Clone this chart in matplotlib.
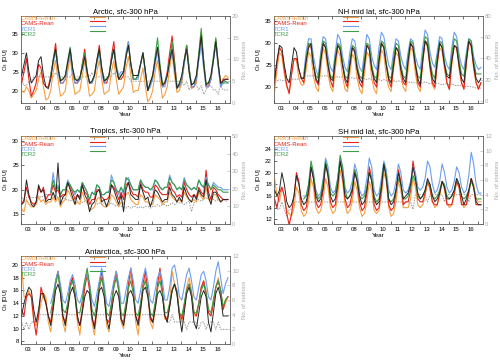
import numpy as np
import matplotlib
matplotlib.use('Agg')
import matplotlib.pyplot as plt

plt.rcParams['font.family'] = ['Liberation Sans', 'DejaVu Sans']

# bi-monthly samples (Jan, Mar, May, Jul, Sep, Nov), 2003 .. Mar 2017
YEAR_LABELS = ['03', '04', '05', '06', '07', '08', '09', '10', '11', '12', '13', '14', '15', '16']
SERIES_NAMES = ['CAMS-iRean', 'CAMS-Rean', 'TCR1', 'TCR2']
START_ALL = 2003
START_TCR = 2005

# ---------------- Arctic ----------------
ARC_OBS = [24, 27, 30, 25, 22, 23, 24, 28, 29, 24, 21, 20.5, 23, 28, 31, 26, 22.5, 23,
           24, 27.5, 31, 26, 23, 22.5, 23.5, 26, 29, 25, 22, 22.5, 24, 28, 31, 26, 22.5, 23,
           24, 28, 31, 26, 23, 24, 25, 29, 32, 27, 24, 24, 24, 27, 30, 25, 20, 22,
           24, 28, 31.5, 26, 21.5, 22, 24, 28, 31, 26, 20.5, 22, 24, 28, 31, 25, 21.5, 22,
           24, 29, 34.5, 27, 21.5, 22, 24, 28, 33, 27, 22, 22.5, 23, 23]
ARC_IREAN = [20, 19.5, 21, 20, 18, 19, 20, 23, 25, 21, 17.5, 18, 20, 25, 28, 23, 18.5, 19,
             20, 25, 29, 23, 19, 19.5, 20, 24, 28, 23, 18.5, 19, 20, 25, 28, 23, 19, 19.5,
             20, 25, 28, 23, 19, 20, 21, 26, 29, 24, 19.5, 20, 20, 23, 26, 21, 17, 18,
             20, 25, 28, 23, 18, 19, 21, 26, 30, 24, 19.5, 20, 22, 27, 32, 25, 20.5, 21,
             22, 29, 35.5, 27, 21, 21.5, 23, 28, 33, 27, 22, 23, 24, 23.5]
ARC_REAN = [22, 25, 28.5, 23, 18.5, 20, 22, 27, 26, 22, 21, 21, 24, 28, 32.5, 26, 22, 22,
            23, 27, 31, 25, 22, 22, 23, 27, 31, 25, 22, 22, 24, 28, 32, 26, 22, 22,
            24, 29, 33, 26, 23, 23, 24, 29, 33, 27, 23, 23, 24, 27, 30, 25, 20, 22,
            24, 28, 31, 26, 21, 22, 25, 30, 34.5, 28, 21, 21, 23, 28, 32, 26, 21, 21,
            23, 29, 35, 28, 21, 21, 23, 28, 33.5, 27, 21, 23, 23, 23]
ARC_TCR1 = [24, 27, 30.5, 25, 22, 22, 23, 27, 30, 25, 22, 22, 23, 26, 29, 25, 22, 22,
            24, 27, 30, 25, 22, 23, 24, 28, 31, 27, 24, 25, 25, 30, 33, 27, 23, 23,
            23, 27, 30, 24, 20, 21, 23, 27, 30.5, 25, 21, 21, 24, 28, 30, 26, 21, 21,
            23, 27, 31, 25, 21, 21, 23, 28, 32, 26, 21, 21, 23, 28, 32, 26, 21, 22, 22, 22]
ARC_TCR2 = [24, 28, 31, 26, 23, 23, 24, 28, 31.5, 26, 23, 23, 23, 27, 30, 25, 22, 22.5,
            24, 28, 31, 26, 23, 23, 24, 28, 31, 26, 23, 24, 25, 29, 32, 27, 23, 23,
            24, 27, 30, 25, 20, 22, 24, 29, 34, 27, 22, 22, 24, 28, 33, 27, 21, 21.5,
            24, 28, 32, 26, 21.5, 22, 24, 30, 36.5, 28, 22, 22, 24, 29, 34, 27, 22, 22, 22.5, 22]
ARC_NST = [5, 4, 4, 5, 5, 6, 6, 6, 6, 6, 6, 6, 6, 6, 7, 6, 6, 6,
           6, 6, 6, 7, 6, 6, 6, 6, 6, 6, 6, 7, 6, 6, 6, 6, 6, 6,
           6, 6, 7, 6, 6, 6, 6, 6, 6, 5, 5, 5, 5, 5, 5, 5, 5, 5,
           5, 5, 5, 5, 5, 5, 5, 5, 5, 5, 5, 5, 5, 4, 5, 3, 4, 5,
           4, 3, 4, 2, 3, 4, 4, 3, 3, 2, 4, 3, 3, 3]

# ---------------- NH mid lat ----------------
NH_OBS = [22, 26, 29.5, 29, 25, 22, 21, 25, 29, 28, 24, 22, 22, 26, 29, 30, 25, 22,
          21, 26, 30, 29, 25, 22, 21.5, 26, 29.5, 28.5, 25, 22, 21, 25, 29, 28, 24, 22,
          21, 25, 29.5, 28.5, 24, 22, 21, 26, 30, 29, 25, 22, 21, 25, 29, 28, 24, 22,
          21, 26, 30, 29, 25, 22, 20.5, 26, 30.5, 29.5, 25, 22, 21, 26, 30, 29, 25, 22.5,
          22, 26, 29.5, 29, 25, 22, 21, 26, 30.5, 29.5, 25, 22, 21, 22]
NH_IREAN = [19, 24, 28, 27, 23, 20, 19, 23, 26.5, 26, 22, 20.5, 20.5, 24, 28, 27, 22.5, 20,
            19, 24, 29, 27.5, 23, 20, 19, 24, 28.5, 27, 22.5, 19.5, 19, 23, 27.5, 26.5, 22, 19.5,
            18.5, 23, 28, 27, 22, 19.5, 18.5, 24, 28.5, 27.5, 22.5, 20, 19, 24, 28, 27, 22.5, 20,
            19, 24, 29, 28, 23, 20, 19, 25, 30.5, 29, 24, 20.5, 19.5, 25, 29, 28, 24, 21,
            19.5, 25, 29.5, 29, 24, 21, 20, 25, 30, 29, 24, 21, 20, 21]
NH_REAN = [21, 26, 29, 28, 24, 20.5, 18.5, 23, 26.5, 26.5, 24, 22, 21, 26, 29.5, 29, 25, 21.5,
           20.5, 26, 30, 29, 25, 21.5, 20, 26, 29.5, 29, 25, 21.5, 20, 25, 29, 28.5, 24, 21,
           20, 25, 29.5, 29, 24.5, 21, 20, 26, 30, 29, 25, 21.5, 20, 25, 29, 28.5, 24, 21,
           20.5, 26, 30, 29, 25, 21, 20, 26, 30.5, 30, 25, 21, 20, 25.5, 30, 29, 25, 21,
           19.5, 26, 29.5, 29, 25, 21, 19.5, 26, 30.5, 29.5, 25, 21, 19.5, 21]
NH_TCR1 = [23, 28, 31, 31, 27, 24, 22.5, 28, 31.5, 31, 27, 24.5, 23.5, 28, 32, 31, 27, 24.5,
           23.5, 28, 31, 30.5, 27, 24.5, 23.5, 28, 32, 31, 27, 25, 24, 29, 32.5, 31.5, 28, 25,
           24, 28, 31, 30.5, 27, 25, 24, 28, 31, 30.5, 27, 25, 24, 29, 33, 32, 28, 25.5,
           24.5, 28, 31.5, 31, 27, 25, 24, 29, 32.5, 31.5, 27.5, 25, 24, 28, 31, 30.5, 27, 25, 24, 24.5]
NH_TCR2 = [22, 27, 30, 29.5, 25, 22.5, 22, 27, 30.5, 30, 25.5, 22.5, 22, 27, 30, 29.5, 25.5, 22.5,
           22, 26, 29.5, 29, 25, 22.5, 22, 26.5, 30, 29.5, 25, 22.5, 22, 27, 30.5, 30, 25.5, 22.5,
           22, 26.5, 30, 29.5, 25, 22.5, 22, 27, 30.5, 30, 25.5, 22.5, 22, 27, 31.5, 31, 26, 23,
           22, 27, 30.5, 30, 25.5, 23, 22.5, 27.5, 31, 30.5, 26, 23, 22.5, 27, 31, 30.5, 26, 23, 23, 23]
NH_NST = [19, 19, 20, 19, 19, 20, 20, 20, 21, 20, 21, 22, 22, 23, 24, 23, 24, 24,
          23, 24, 23, 24, 23, 23, 23, 22, 23, 22, 23, 22, 22, 21, 22, 21, 22, 21,
          21, 21, 20, 21, 20, 20, 20, 20, 19, 20, 19, 19, 19, 19, 18, 19, 18, 18,
          18, 18, 17, 18, 17, 17, 17, 17, 18, 17, 16, 17, 16, 17, 16, 15, 16, 16,
          15, 16, 15, 14, 15, 14, 14, 13, 14, 13, 13, 12, 12, 12]

# ---------------- Tropics ----------------
TR_OBS = [17, 17.5, 22, 19, 17, 16.5, 17.5, 21, 19.5, 20, 17.5, 18, 18, 19.5, 18, 25.5, 17, 18.5,
          19, 21.5, 20, 18.5, 17, 19, 18, 21, 19, 18, 15.5, 17, 17.5, 19.5, 20, 17.5, 18, 16.5,
          18, 21, 20, 18.5, 17, 19, 15.5, 20, 21.5, 19, 18.5, 18, 18, 21, 19.5, 18, 18.5, 16.5,
          18, 20, 19.5, 18.5, 17.5, 18, 18, 20.5, 19, 18.5, 17.5, 18.5, 17.5, 20.5, 19, 18, 17.5, 19,
          18, 20, 19, 18.5, 22, 18.5, 17, 19.5, 19.5, 18.5, 17.5, 18, 18, 18]
TR_IREAN = [16, 15.5, 18, 17, 16.5, 16.5, 17, 18.5, 17.5, 18, 17, 17.5, 17.5, 18.5, 17.5, 18.5, 16.5, 17.5,
            18, 20, 19, 18, 17, 17.5, 17, 19.5, 18, 17.5, 16, 16, 16.5, 18, 18.5, 17, 16.5, 16.5,
            17, 19, 18.5, 17.5, 16.5, 17.5, 17, 19, 19.5, 18, 17.5, 17, 17, 19, 18.5, 17.5, 17.5, 17,
            17, 19, 18.5, 18, 17, 17.5, 17.5, 19.5, 18.5, 18, 17.5, 18, 17.5, 19.5, 18.5, 18, 17.5, 18,
            17.5, 19.5, 18.5, 18, 20.5, 18, 17.5, 19, 19, 18, 17.5, 18, 18, 18]
TR_REAN = [17, 18, 20.5, 18.5, 17.5, 17, 17.5, 20.5, 19.5, 20.5, 18, 19, 19, 21, 19.5, 20, 18.5, 19,
           19, 21.5, 20.5, 19.5, 18, 19, 18.5, 21, 19.5, 19, 17, 18, 18, 20, 20, 18.5, 18, 18,
           18.5, 21, 20.5, 19.5, 18, 19.5, 18, 21, 21.5, 20, 19, 19, 18.5, 21.5, 20, 19.5, 19.5, 18.5,
           18.5, 21, 20.5, 19.5, 19, 19, 19, 21.5, 20, 19.5, 18.5, 19, 18.5, 21.5, 20, 19, 18.5, 19,
           18.5, 20.5, 19.5, 19, 24, 19.5, 18, 20.5, 20, 19, 18.5, 18, 18, 18]
TR_TCR1 = [19.5, 23.5, 20, 21, 19, 20, 20, 22, 21, 20, 19, 20, 19.5, 21.5, 20.5, 19.5, 18, 19.5,
           19, 21, 20.5, 19, 19, 19.5, 19.5, 23, 21.5, 20, 19, 20.5, 19, 22, 22.5, 21, 20, 20,
           20, 22, 21, 20.5, 20.5, 20, 20, 22, 21.5, 20.5, 20, 20.5, 20.5, 23, 21.5, 21, 20, 20.5,
           20, 22.5, 21, 20.5, 20, 20.5, 20, 22, 21, 20.5, 22.5, 21, 20, 21.5, 21, 20.5, 20.5, 20, 20, 20]
TR_TCR2 = [19.5, 22, 20, 20.5, 19, 20, 20, 21.5, 21, 20, 19.5, 20, 19.5, 21.5, 20.5, 19.5, 18, 19.5,
           19, 21, 20.5, 19, 19, 19.5, 19.5, 22, 21.5, 20, 19.5, 20.5, 19.5, 22.5, 22, 21, 20, 20,
           20, 22, 21, 20.5, 20.5, 20, 20.5, 22, 21.5, 20.5, 20, 20.5, 20.5, 22.5, 21.5, 21, 20, 20.5,
           20, 22, 21, 20.5, 20, 20.5, 20, 22, 21, 20.5, 22, 21, 20, 21, 20.5, 20, 20, 19.5, 19.5, 19.5]
TR_NST = [15, 14, 15, 16, 15, 15, 15, 16, 15, 16, 17, 16, 16, 17, 16, 15, 16, 15,
          14, 14, 13, 14, 13, 13, 13, 12, 13, 12, 11, 12, 12, 11, 12, 11, 12, 11,
          11, 12, 11, 10, 11, 10, 10, 9, 10, 9, 10, 10, 9, 10, 9, 10, 10, 9,
          10, 10, 11, 10, 11, 11, 10, 11, 12, 11, 12, 12, 12, 11, 12, 13, 7, 12,
          13, 14, 13, 14, 15, 14, 15, 14, 13, 14, 13, 14, 13, 13]

# ---------------- SH mid lat ----------------
SH_OBS = [17, 16, 17, 20, 18, 15, 14, 14.5, 16, 19.5, 18, 15.5, 14.5, 15, 17, 21, 19, 16,
          15, 15.5, 17.5, 21.5, 19.5, 16, 15, 15.5, 18, 22, 19.5, 16, 15.5, 16, 17, 20, 18.5, 16,
          14.5, 15, 17, 20, 18.5, 15.5, 14.5, 15, 17.5, 21.5, 19, 15.5, 14.5, 15, 17, 20, 18, 15.5,
          16, 16.5, 18, 21, 19, 16.5, 15.5, 16, 17, 19, 18, 16, 15, 15.5, 16.5, 18.5, 17.5, 15.5,
          15.5, 16, 17, 19, 18, 16, 14.5, 15.5, 17, 19, 17.5, 15, 14.5, 14.5]
SH_IREAN = [19, 16, 15, 17.5, 16, 13.5, 13, 12.5, 14, 17.5, 16.5, 13.5, 12.5, 13, 15, 19, 17.5, 14,
            13, 13.5, 15.5, 19, 17.5, 14, 13, 13.5, 16, 20.5, 18.5, 14.5, 13, 13.5, 15, 18.5, 17, 14,
            12.5, 13, 15, 18.5, 17, 13.5, 13, 13.5, 16, 20, 18.5, 14, 12.5, 13, 15, 18.5, 17, 14,
            14, 14, 15.5, 19, 17.5, 14.5, 14, 14.5, 16, 18.5, 17, 15, 14, 14.5, 16, 18.5, 17, 15,
            14, 14.5, 16, 18.5, 17.5, 15, 14, 14.5, 16.5, 19, 18, 15.5, 15, 15]
SH_REAN = [15.5, 14, 16.5, 17.5, 16, 13, 11, 13, 16, 20, 18.5, 14.5, 13.5, 14, 16.5, 21, 19, 15,
           14, 14.5, 17, 21.5, 19.5, 15, 14, 14.5, 17.5, 22, 20, 15.5, 14, 14.5, 16.5, 20.5, 18.5, 15,
           13.5, 14, 16.5, 21, 19, 14.5, 13.5, 14, 17, 21.5, 19.5, 14.5, 13.5, 14, 16.5, 20.5, 18.5, 14.5,
           15, 15, 17, 22, 19.5, 15.5, 15, 15, 16.5, 18.5, 17.5, 15, 14.5, 14.5, 16.5, 18.5, 17.5, 14.5,
           14.5, 14.5, 16.5, 18.5, 17.5, 14.5, 14.5, 14.5, 16.5, 19, 17.5, 14.5, 14.5, 14.5]
SH_TCR1 = [16, 16, 18, 21, 19.5, 17, 16, 16.5, 19, 22.5, 21, 17.5, 16.5, 17, 19, 22.5, 21, 17.5,
           16.5, 17, 18.5, 21.5, 20, 17, 16, 16.5, 19, 22.5, 21, 17, 16, 16.5, 19, 22, 20.5, 17,
           16, 16.5, 18.5, 21.5, 20, 17, 16.5, 17, 18.5, 21, 20, 17.5, 17, 17.5, 19, 22, 21, 18,
           16.5, 17, 18.5, 21.5, 20, 17.5, 16.5, 17, 18.5, 21, 20, 17.5, 16.5, 17, 19.5, 23.5, 21.5, 18, 16.5, 16.5]
SH_TCR2 = [15.5, 16, 18, 22, 20, 16.5, 15.5, 16, 18.5, 22, 20, 16.5, 16, 16.5, 19, 23, 21, 17,
           15.5, 16, 17.5, 20.5, 19, 16, 15.5, 16, 17.5, 20, 19, 16, 15, 15.5, 18, 21.5, 19.5, 15.5,
           15, 15.5, 17, 19, 18, 15.5, 15.5, 16, 17.5, 19.5, 18.5, 16, 15.5, 16, 17, 18.5, 18, 16,
           15.5, 16, 17, 18.5, 18, 16, 15.5, 16, 17, 19, 18, 16, 15.5, 16, 17, 18.5, 17.5, 15.5, 15.5, 15.5]
SH_NST = [3, 2, 2, 3, 2, 1, 2, 2, 3, 3, 3, 3, 3, 3, 3, 3, 3, 3,
          3, 3, 3, 3, 3, 3, 3, 3, 3, 3, 3, 3, 3, 3, 3, 3, 3, 3,
          3, 3, 3, 3, 3, 3, 3, 3, 3, 3, 3, 3, 3, 3, 3, 3, 3, 3,
          3, 3, 3, 2, 4, 4, 4, 4, 4, 3, 4, 4, 4, 4, 4, 4, 3, 4,
          4, 4, 4, 4, 4, 4, 4, 4, 3, 4, 4, 4, 4, 4]

# ---------------- Antarctica ----------------
AN_OBS = [12, 14, 15.5, 16.5, 16, 13, 11, 13, 15.5, 15.5, 14, 12, 10.5, 13, 16, 17, 15.5, 12,
          10.5, 13, 15.5, 16.5, 15, 12, 10.5, 12.5, 15, 16, 15.5, 12, 10, 13, 16, 16.5, 15, 11.5,
          10, 12.5, 15, 16, 15, 11.5, 10.5, 13, 15.5, 16, 15, 12, 10.5, 13, 16, 16.5, 15, 12,
          11, 13, 15.5, 16, 15, 12, 11, 13.5, 16, 17, 15.5, 12, 9.5, 12.5, 15.5, 16.5, 15, 11,
          10, 12.5, 15, 16, 15, 11, 9.5, 12.5, 15.5, 16.5, 15, 12, 12, 12]
AN_IREAN = [20, 15, 15, 16, 15, 11, 10.5, 12, 14, 15.5, 15, 11, 9.5, 13, 17, 19, 16, 11,
            9.5, 13, 16.5, 18, 15.5, 11, 9, 13, 16.5, 19, 16.5, 11, 9, 12.5, 16, 18, 16, 10.5,
            9.5, 13, 16.5, 19, 16, 11, 10, 13, 16, 18.5, 16, 11, 9, 12.5, 16, 18, 15.5, 11,
            10, 13, 16, 18.5, 16, 11.5, 11.5, 14, 19, 17, 15.5, 12, 11, 13.5, 16.5, 18, 16, 12,
            12, 14, 16.5, 17.5, 16, 12.5, 12, 14, 16.5, 18, 16, 13, 14, 15]
AN_REAN = [13, 12, 15, 15.5, 15, 11.5, 9, 12, 16.5, 15, 14, 12, 11, 14, 17.5, 19, 16, 12,
           11, 13.5, 17, 18, 15.5, 11.5, 10.5, 13, 16.5, 18.5, 16, 11.5, 10.5, 13, 17, 19, 16, 11.5,
           11, 13.5, 17, 19, 16, 11.5, 11, 13.5, 17, 19.5, 16.5, 12, 11, 13.5, 17, 19, 16, 11.5,
           11, 13.5, 17, 19.5, 16, 12, 11.5, 13.5, 16, 17, 16, 12.5, 11.5, 13.5, 16, 17, 15.5, 12.5,
           12, 14, 16.5, 17.5, 15.5, 12.5, 12, 14, 16.5, 17.5, 16, 13, 14.5, 15]
AN_TCR1 = [14, 15.5, 17.5, 19, 17, 14.5, 14, 15.5, 17.5, 18.5, 17, 14.5, 14, 15.5, 17.5, 18.5, 17, 14.5,
           13.5, 15.5, 17.5, 19.5, 17, 14, 13.5, 15.5, 17.5, 19, 17, 14, 14, 16, 18, 19.5, 17.5, 14.5,
           14, 16, 18, 19.5, 17.5, 14.5, 14, 16, 18, 19, 17.5, 14.5, 14.5, 16.5, 19.5, 20, 18, 15,
           14.5, 16.5, 18.5, 19.5, 17.5, 15, 14.5, 16.5, 18.5, 19, 17.5, 15, 14.5, 16.5, 19, 20.5, 18, 15.5, 17, 18]
AN_TCR2 = [12.5, 14.5, 17, 18.5, 16, 13, 12.5, 14, 16.5, 17.5, 15.5, 12.5, 12.5, 14.5, 17.5, 19.5, 17, 13,
           12, 14, 16.5, 18, 16, 12.5, 12, 14, 16.5, 18, 16, 12.5, 12, 14, 16.5, 17.5, 15.5, 12.5,
           12, 14, 16.5, 17.5, 15.5, 12.5, 12, 14, 16.5, 17.5, 15.5, 12.5, 12.5, 14, 16, 17, 15.5, 12.5,
           12, 14, 16, 17, 15.5, 12.5, 12.5, 14, 16, 17, 15.5, 13, 12.5, 14.5, 16.5, 17.5, 16, 13.5, 14.5, 15]
AN_NST = [3, 2, 3, 2, 3, 3, 3, 4, 4, 4, 4, 4, 4, 4, 4, 4, 4, 4,
          4, 4, 4, 4, 4, 4, 4, 4, 4, 4, 4, 4, 4, 4, 4, 4, 4, 4,
          4, 4, 4, 4, 4, 4, 4, 4, 4, 4, 4, 4, 4, 4, 4, 4, 4, 4,
          4, 4, 4, 4, 4, 4, 3, 3, 4, 3, 3, 3, 3, 3, 2, 3, 3, 3,
          3, 2, 3, 3, 2, 3, 3, 3, 2, 3, 2, 2, 2, 2]

PANELS = [
    dict(title='Arctic, sfc-300 hPa', obs=ARC_OBS, irean=ARC_IREAN, rean=ARC_REAN,
         tcr1=ARC_TCR1, tcr2=ARC_TCR2, nst=ARC_NST,
         ylim=(16.7, 39.8), yticks=[20, 25, 30, 35], rlim=(0, 20), rticks=[0, 5, 10, 15, 20],
         rect=[0.042, 0.7163, 0.418, 0.2397]),
    dict(title='NH mid lat, sfc-300 hPa', obs=NH_OBS, irean=NH_IREAN, rean=NH_REAN,
         tcr1=NH_TCR1, tcr2=NH_TCR2, nst=NH_NST,
         ylim=(16.4, 36.2), yticks=[20, 25, 30, 35], rlim=(-2, 80), rticks=[0, 20, 40, 60, 80],
         rect=[0.548, 0.7163, 0.418, 0.2397]),
    dict(title='Tropics, sfc-300 hPa', obs=TR_OBS, irean=TR_IREAN, rean=TR_REAN,
         tcr1=TR_TCR1, tcr2=TR_TCR2, nst=TR_NST,
         ylim=(13.0, 31.0), yticks=[15, 20, 25, 30], rlim=(0, 50), rticks=[0, 10, 20, 30, 40, 50],
         rect=[0.042, 0.383, 0.418, 0.2424]),
    dict(title='SH mid lat, sfc-300 hPa', obs=SH_OBS, irean=SH_IREAN, rean=SH_REAN,
         tcr1=SH_TCR1, tcr2=SH_TCR2, nst=SH_NST,
         ylim=(11.2, 26.3), yticks=[12, 14, 16, 18, 20, 22, 24], rlim=(0, 12), rticks=[0, 2, 4, 6, 8, 10, 12],
         rect=[0.548, 0.383, 0.418, 0.2424]),
    dict(title='Antarctica, sfc-300 hPa', obs=AN_OBS, irean=AN_IREAN, rean=AN_REAN,
         tcr1=AN_TCR1, tcr2=AN_TCR2, nst=AN_NST,
         ylim=(7.6, 21.4), yticks=[8, 10, 12, 14, 16, 18, 20], rlim=(0, 12), rticks=[0, 2, 4, 6, 8, 10, 12],
         rect=[0.042, 0.0523, 0.418, 0.2424]),
]

C_IREAN = '#f5a045'
C_REAN = '#e8231c'
C_TCR1 = '#6d9ef0'
C_TCR2 = '#3a9e46'
C_OBS = '#262626'
C_GRAY = '#9a9a9a'


def times(start, n):
    return start + (2 * np.arange(n) + 0.5) / 12.0


fig = plt.figure(figsize=(5.0, 3.63), dpi=100)
XMIN, XMAX = 2003.0, 2017.35
FS = 4.3

for p in PANELS:
    ax = fig.add_axes(p['rect'])
    ax2 = ax.twinx()
    ax.set_zorder(ax2.get_zorder() + 1)
    ax.patch.set_visible(False)

    nst = np.array(p['nst'], float)
    ax2.plot(times(START_ALL, len(nst)), nst, color=C_GRAY, lw=0.7, ls=(0, (1.5, 1.2)))
    ax2.set_ylim(*p['rlim'])
    ax2.set_yticks(p['rticks'])
    ax2.tick_params(axis='y', colors='#aaaaaa', labelsize=FS, direction='in', length=2, width=0.4, pad=1.5)
    ax2.set_ylabel('No. of stations', color='#aaaaaa', fontsize=FS, labelpad=2)

    lw = 0.8
    ax.plot(times(START_ALL, len(p['irean'])), p['irean'], color=C_IREAN, lw=lw)
    ax.plot(times(START_ALL, len(p['rean'])), p['rean'], color=C_REAN, lw=lw)
    ax.plot(times(START_TCR, len(p['tcr1'])), p['tcr1'], color=C_TCR1, lw=lw)
    ax.plot(times(START_TCR, len(p['tcr2'])), p['tcr2'], color=C_TCR2, lw=lw)
    ax.plot(times(START_ALL, len(p['obs'])), p['obs'], color=C_OBS, lw=0.7)

    ax.set_xlim(XMIN, XMAX)
    ax.set_ylim(*p['ylim'])
    ax.set_yticks(p['yticks'])
    ax.set_xticks(np.arange(2003, 2018), minor=True)
    ax.set_xticks(np.arange(2003, 2017) + 0.5)
    ax.set_xticklabels(YEAR_LABELS)
    ax.tick_params(axis='x', which='major', length=0, labelsize=FS, pad=2.5)
    ax.tick_params(axis='x', which='minor', length=2, width=0.4, direction='in', top=True)
    ax.tick_params(axis='y', labelsize=FS, direction='in', length=2, width=0.4, pad=1.5)
    for sp in list(ax.spines.values()) + list(ax2.spines.values()):
        sp.set_linewidth(0.4)
        sp.set_color('#555555')
    ax.set_xlabel('Year', fontsize=4.6, labelpad=0.5)
    ax.set_ylabel('O$_3$ [DU]', fontsize=FS, labelpad=1.5)
    ax.set_title(p['title'], fontsize=5.6, pad=2)

    # legend: coloured names on the left, line samples in the middle
    cols = [C_IREAN, C_REAN, C_TCR1, C_TCR2]
    for i, (name, c) in enumerate(zip(SERIES_NAMES, cols)):
        ax.text(0.0, 1.0 - 0.058 * i - 0.005, name, color=c, fontsize=FS, transform=ax.transAxes,
                ha='left', va='top')
        yl = 0.99 - 0.053 * i
        ax.plot([0.33, 0.40], [yl, yl], color=c, lw=0.8, transform=ax.transAxes, clip_on=False)

fig.savefig('out.png', dpi=100)
